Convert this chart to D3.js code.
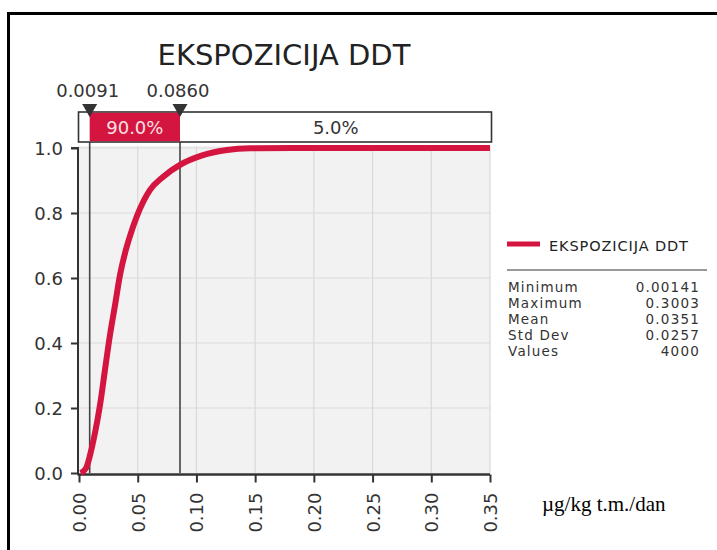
<!DOCTYPE html>
<html><head><meta charset="utf-8">
<script src="https://cdn.jsdelivr.net/npm/d3@7"></script>
<style>
html,body{margin:0;padding:0;background:#fff;}
svg{display:block;}
</style></head>
<body>
<svg id="chart" width="717" height="550"></svg>
<script>
// ---- data ----
const titleText = "EKSPOZICIJA DDT";
const seriesName = "EKSPOZICIJA DDT";
const cdfX = [0.0014, 0.006, 0.0094, 0.0136, 0.0179, 0.0221, 0.0264, 0.0307, 0.0349, 0.0392, 0.0434, 0.0494, 0.0605, 0.0715, 0.086, 0.1056, 0.126, 0.1456, 0.20, 0.25, 0.3003, 0.35];
const cdfP = [0.0, 0.015, 0.055, 0.123, 0.209, 0.317, 0.425, 0.517, 0.609, 0.677, 0.729, 0.791, 0.871, 0.911, 0.948, 0.978, 0.994, 0.999, 1.0, 1.0, 1.0, 1.0];
const markerValues = [0.0091, 0.0860];
const markerLabels = ["0.0091", "0.0860"];
const bandLabels = ["90.0%", "5.0%"];
const xTicks = [0, 0.05, 0.10, 0.15, 0.20, 0.25, 0.30, 0.35];
const yTicks = [0, 0.2, 0.4, 0.6, 0.8, 1.0];
const statNames = ["Minimum", "Maximum", "Mean", "Std Dev", "Values"];
const statValues = ["0.00141", "0.3003", "0.0351", "0.0257", "4000"];
const unitLabel = "\u00B5g/kg t.m./dan";

// ---- layout ----
const svg = d3.select("#chart");
const red = "#d3153f";
const dark = "#333";
const font = "DejaVu Sans, Verdana, sans-serif";

const x = d3.scaleLinear().domain([0, 0.35]).range([79, 490]);
const y = d3.scaleLinear().domain([0, 1]).range([473, 148]);

// outer border (top & left)
svg.append("line").attr("x1", 7).attr("x2", 717).attr("y1", 13.5).attr("y2", 13.5).attr("stroke", "#000").attr("stroke-width", 3);
svg.append("line").attr("x1", 8.5).attr("x2", 8.5).attr("y1", 12).attr("y2", 550).attr("stroke", "#000").attr("stroke-width", 3);

// title
svg.append("text").attr("x", 284).attr("y", 65).attr("text-anchor", "middle")
  .attr("font-family", font).attr("font-size", 29).attr("fill", "#222").text(titleText);

// plot background
svg.append("rect").attr("x", x(0) - 1).attr("y", 146).attr("width", x(0.35) - x(0) + 1).attr("height", y(0) - 146)
  .attr("fill", "#f2f2f2");

// gridlines
svg.append("g").selectAll("line").data(xTicks.slice(1)).join("line")
  .attr("x1", d => x(d)).attr("x2", d => x(d)).attr("y1", 146).attr("y2", y(0))
  .attr("stroke", "#d9d9d9").attr("stroke-width", 1.2);
svg.append("g").selectAll("line").data(yTicks.slice(1)).join("line")
  .attr("x1", x(0)).attr("x2", x(0.35)).attr("y1", d => y(d)).attr("y2", d => y(d))
  .attr("stroke", "#d9d9d9").attr("stroke-width", 1.2);

// y axis
const yAxis = d3.axisLeft(y).tickValues(yTicks).tickFormat(d3.format(".1f")).tickSize(7).tickPadding(8);
const gy = svg.append("g").attr("transform", "translate(78,0)").call(yAxis);
gy.select(".domain").attr("stroke", dark).attr("stroke-width", 2).attr("d", `M-7,${y(1)}H0V${y(0)+1.5}`);
gy.selectAll(".tick line").attr("stroke", dark).attr("stroke-width", 2);
gy.selectAll(".tick text").attr("font-family", font).attr("font-size", 18).attr("fill", dark).attr("dy", "0.36em");

// x axis
const xAxis = d3.axisBottom(x).tickValues(xTicks).tickFormat(d3.format(".2f")).tickSize(8).tickPadding(0);
const gx = svg.append("g").attr("transform", "translate(0,474.5)").call(xAxis);
gx.select(".domain").attr("stroke", dark).attr("stroke-width", 2.5).attr("d", `M${x(0)-1.5},0H${x(0.35)}`);
gx.selectAll(".tick line").attr("stroke", dark).attr("stroke-width", 2);
gx.selectAll(".tick text").attr("font-family", font).attr("font-size", 18).attr("fill", dark)
  .attr("transform", "rotate(-90)").attr("text-anchor", "end").attr("x", -18).attr("y", 0).attr("dy", "0.36em");

// marker vertical lines
svg.append("g").selectAll("line").data(markerValues).join("line")
  .attr("x1", d => x(d)).attr("x2", d => x(d)).attr("y1", 112).attr("y2", y(0))
  .attr("stroke", "#444").attr("stroke-width", 1.6);

// CDF curve
const line = d3.line().x(d => x(d)).y((d, i) => y(cdfP[i])).curve(d3.curveMonotoneX);
svg.append("path").datum(cdfX).attr("d", line).attr("fill", "none")
  .attr("stroke", red).attr("stroke-width", 6).attr("stroke-linejoin", "round");

// percentile band
const bandTop = 112, bandBot = 142;
svg.append("rect").attr("x", 78.5).attr("y", bandTop).attr("width", 413).attr("height", bandBot - bandTop)
  .attr("fill", "#fff").attr("stroke", dark).attr("stroke-width", 1.6);
svg.append("rect").attr("x", x(markerValues[0])).attr("y", bandTop + 0.8)
  .attr("width", x(markerValues[1]) - x(markerValues[0])).attr("height", bandBot - bandTop - 1.6)
  .attr("fill", red);
svg.append("text").attr("x", (x(markerValues[0]) + x(markerValues[1])) / 2).attr("y", 133.5)
  .attr("text-anchor", "middle").attr("font-family", font).attr("font-size", 18).attr("fill", "#fbe0e6").text(bandLabels[0]);
svg.append("text").attr("x", (x(markerValues[1]) + 491.5) / 2).attr("y", 133.5)
  .attr("text-anchor", "middle").attr("font-family", font).attr("font-size", 18).attr("fill", dark).text(bandLabels[1]);

// triangles & labels
svg.append("g").selectAll("path").data(markerValues).join("path")
  .attr("d", d => `M${x(d) - 7.5},104 L${x(d) + 7.5},104 L${x(d)},117 Z`)
  .attr("fill", "#333");
svg.append("g").selectAll("text").data(markerValues).join("text")
  .attr("x", d => x(d) - 2).attr("y", 97).attr("text-anchor", "middle")
  .attr("font-family", font).attr("font-size", 18).attr("fill", dark)
  .text((d, i) => markerLabels[i]);

// legend
svg.append("line").attr("x1", 507).attr("x2", 540).attr("y1", 244).attr("y2", 244).attr("stroke", red).attr("stroke-width", 5);
svg.append("text").attr("x", 549).attr("y", 251).attr("font-family", font).attr("font-size", 14.5).attr("letter-spacing", 0.9)
  .attr("fill", "#222").text(seriesName);
svg.append("line").attr("x1", 507).attr("x2", 707).attr("y1", 270).attr("y2", 270).attr("stroke", "#777").attr("stroke-width", 1.5);
const stats = svg.append("g");
stats.selectAll("text.n").data(statNames).join("text").attr("class", "n")
  .attr("x", 508).attr("y", (d, i) => 292 + i * 16).attr("font-family", font).attr("font-size", 13.5)
  .attr("letter-spacing", 1.2).attr("fill", "#333").text(d => d);
stats.selectAll("text.v").data(statValues).join("text").attr("class", "v")
  .attr("x", 700).attr("y", (d, i) => 292 + i * 16).attr("text-anchor", "end").attr("font-family", font).attr("font-size", 13.5)
  .attr("letter-spacing", 1.2).attr("fill", "#333").text(d => d);

// unit label
svg.append("text").attr("x", 542).attr("y", 511).attr("font-family", "Liberation Serif, Times New Roman, serif")
  .attr("font-size", 21).attr("fill", "#000").text(unitLabel);
</script>
</body></html>
